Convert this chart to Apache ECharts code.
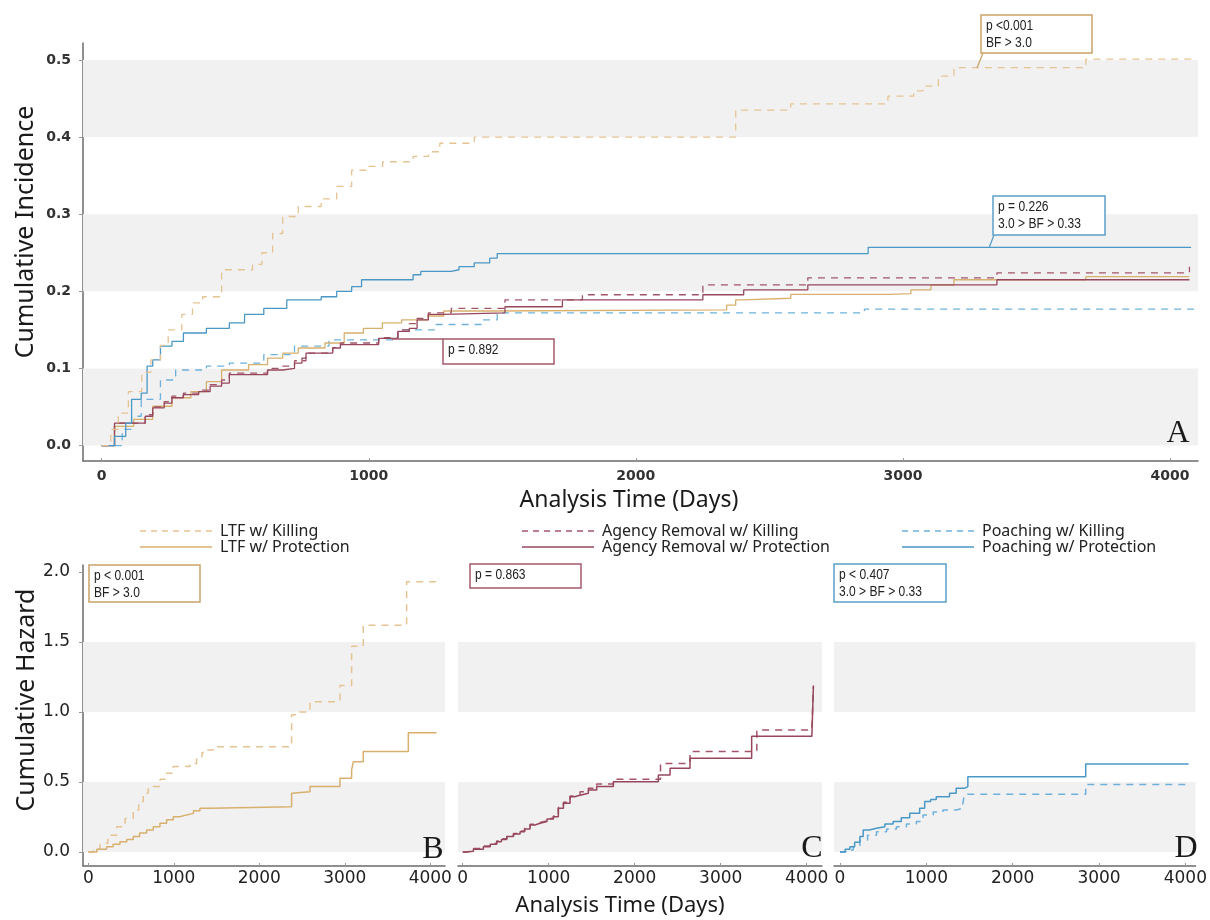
<!DOCTYPE html>
<html>
<head>
<meta charset="utf-8" />
<title>Cumulative incidence and hazard</title>
<script src="https://cdn.jsdelivr.net/npm/echarts@6/dist/echarts.min.js"></script>
<style>
  html, body { margin: 0; padding: 0; background: #fff; }
  #main { width: 1210px; height: 920px; }
</style>
</head>
<body>
<div id="main"></div>
<script type="text/javascript">
// ---- data: [day, value] step points ----
var seriesNames = ['LTF w/ Killing', 'LTF w/ Protection',
                   'Agency Removal w/ Killing', 'Agency Removal w/ Protection',
                   'Poaching w/ Killing', 'Poaching w/ Protection'];

// panel A : cumulative incidence
var ltfKillA = [[0,0],[34,0.021],[62,0.042],[100,0.07],[150,0.095],[184,0.111],[220,0.13],[249,0.15],[300,0.17],[340,0.185],
  [378,0.193],[449,0.228],[565,0.235],[600,0.25],[640,0.275],[678,0.297],[736,0.31],[822,0.32],[880,0.336],[936,0.357],
  [994,0.362],[1052,0.368],[1166,0.375],[1224,0.381],[1266,0.392],[1395,0.40],[2374,0.435],[2580,0.443],[2944,0.453],
  [3040,0.46],[3075,0.466],[3133,0.479],[3191,0.49],[3685,0.501],[4094,0.501]];
var ltfProtA = [[0,0],[48,0.025],[120,0.034],[191,0.051],[263,0.062],[334,0.07],[392,0.083],[449,0.098],[550,0.105],
  [621,0.1135],[678,0.12],[736,0.1265],[836,0.133],[908,0.146],[980,0.152],[1051,0.159],[1123,0.163],[1223,0.168],
  [1281,0.1745],[1453,0.176],[2340,0.182],[2374,0.189],[2404,0.191],[2580,0.196],[2944,0.197],[3030,0.202],[3105,0.208],
  [3191,0.215],[3685,0.219],[4073,0.219]];
var agencyKillA = [[0,0],[48,0.029],[163,0.04],[191,0.05],[234,0.057],[263,0.064],[306,0.068],[363,0.072],[406,0.079],
  [449,0.085],[478,0.094],[621,0.1],[678,0.103],[722,0.11],[765,0.12],[865,0.127],[894,0.133],[1037,0.14],[1109,0.15],
  [1152,0.158],[1181,0.165],[1223,0.172],[1309,0.178],[1510,0.189],[1800,0.1956],[2251,0.2085],[2644,0.2175],
  [3352,0.224],[4060,0.224],[4073,0.232]];
var agencyProtA = [[0,0],[48,0.029],[163,0.038],[191,0.049],[234,0.055],[263,0.062],[306,0.066],[363,0.07],[406,0.077],
  [449,0.081],[478,0.092],[621,0.098],[678,0.1],[722,0.107],[750,0.1135],[765,0.12],[865,0.1265],[894,0.131],
  [1037,0.139],[1109,0.148],[1152,0.152],[1181,0.163],[1223,0.17],[1281,0.172],[1510,0.18],[1725,0.189],
  [2251,0.1956],[2404,0.202],[2644,0.2085],[3352,0.215],[4073,0.215]];
var poachKillA = [[0,0],[77,0.021],[112,0.038],[148,0.06],[220,0.085],[277,0.098],[392,0.103],[478,0.107],[607,0.118],
  [722,0.129],[851,0.137],[1109,0.15],[1252,0.157],[1424,0.163],[1481,0.172],[2856,0.177],[4090,0.177]];
var poachProtA = [[0,0],[48,0.012],[90,0.029],[112,0.06],[148,0.068],[170,0.103],[191,0.111],[220,0.129],[263,0.135],
  [306,0.146],[392,0.152],[478,0.159],[535,0.17],[607,0.178],[693,0.189],[822,0.193],[880,0.2],[936,0.206],[973,0.215],
  [1166,0.2215],[1195,0.226],[1309,0.228],[1338,0.232],[1395,0.237],[1453,0.243],[1481,0.249],[2870,0.257],[4079,0.257]];

// panel B : LTF cumulative hazard
var ltfKillB = [[0,0],[60,0.02],[136,0.062],[230,0.12],[331,0.18],[430,0.24],[526,0.30],[590,0.36],[643,0.42],[700,0.45],
  [760,0.467],[840,0.52],[916,0.562],[994,0.61],[1189,0.633],[1267,0.68],[1330,0.71],[1384,0.729],[1462,0.752],
  [2378,0.98],[2450,1.0],[2593,1.074],[2943,1.19],[3080,1.47],[3216,1.62],[3723,1.93],[4074,1.93]];
var ltfProtB = [[0,0],[100,0.02],[214,0.038],[290,0.055],[370,0.074],[450,0.09],[526,0.11],[600,0.135],[682,0.157],
  [760,0.18],[838,0.205],[916,0.23],[994,0.252],[1070,0.265],[1150,0.276],[1230,0.295],[1306,0.312],[1423,0.324],
  [2378,0.419],[2398,0.431],[2593,0.467],[2943,0.526],[3080,0.586],[3100,0.645],[3216,0.717],[3743,0.852],[4074,0.852]];

// panel C : agency removal cumulative hazard
var agencyKillC = [[0,0],[40,0.008],[124,0.025],[240,0.042],[320,0.06],[395,0.078],[450,0.095],[512,0.115],[590,0.132],
  [667,0.15],[720,0.17],[783,0.198],[840,0.21],[899,0.222],[980,0.24],[1054,0.258],[1112,0.32],[1171,0.355],[1248,0.4],
  [1300,0.412],[1364,0.43],[1461,0.455],[1558,0.486],[1752,0.519],[2300,0.633],[2643,0.717],[3420,0.871],[4060,0.871],
  [4078,1.19]];
var agencyProtC = [[0,0],[40,0.005],[124,0.02],[240,0.038],[320,0.055],[395,0.074],[450,0.09],[512,0.11],[590,0.128],
  [667,0.145],[720,0.165],[783,0.193],[840,0.205],[899,0.217],[980,0.235],[1054,0.252],[1112,0.312],[1171,0.348],
  [1248,0.395],[1300,0.405],[1364,0.419],[1461,0.443],[1558,0.467],[1752,0.502],[2275,0.55],[2411,0.598],[2643,0.669],
  [3360,0.826],[4060,0.826],[4078,1.18]];

// panel D : poaching cumulative hazard
var poachKillD = [[0,0],[70,0.015],[154,0.038],[231,0.086],[320,0.12],[423,0.145],[540,0.165],[654,0.181],[770,0.2],
  [885,0.217],[962,0.264],[1080,0.285],[1192,0.3],[1346,0.312],[1423,0.348],[1442,0.412],[2846,0.483],[4038,0.483]];
var poachProtD = [[0,0],[60,0.02],[115,0.038],[170,0.07],[231,0.11],[269,0.157],[340,0.17],[423,0.181],[520,0.2],
  [615,0.217],[710,0.245],[808,0.276],[923,0.312],[981,0.36],[1050,0.375],[1115,0.395],[1269,0.419],[1346,0.455],
  [1442,0.467],[1481,0.538],[2846,0.629],[4038,0.629]];

// tick labels and shaded bands
var dayTicks = [0, 1000, 2000, 3000, 4000];
var incidenceTicks = [0, 0.1, 0.2, 0.3, 0.4, 0.5];
var hazardTicks = [0, 0.5, 1, 1.5, 2];
var incidenceBands = [[0, 0.1], [0.2, 0.3], [0.4, 0.5]];
var hazardBands = [[0, 0.5], [1, 1.5]];

var colors = {
    ltfKill: '#e6c393', ltfProt: '#d8b06e',
    agencyKill: '#a25569', agencyProt: '#97475c',
    poachKill: '#6fb1dc', poachProt: '#4a98c6'
};
var seriesColors = [colors.ltfKill, colors.ltfProt, colors.agencyKill, colors.agencyProt, colors.poachKill, colors.poachProt];

var myChart = echarts.init(document.getElementById('main'));

function bands(list) {
    return {
        silent: true,
        itemStyle: { color: '#f1f1f1' },
        data: list.map(function (b) { return [{ yAxis: b[0] }, { yAxis: b[1] }]; })
    };
}

function mkLine(name, data, color, dashed, idx, width, area) {
    var s = {
        name: name,
        type: 'line',
        step: 'end',
        xAxisIndex: idx,
        yAxisIndex: idx,
        data: data,
        showSymbol: false,
        symbol: 'none',
        lineStyle: { color: color, width: width, type: dashed ? [7, 6] : 'solid' },
        itemStyle: { color: color },
        z: 3
    };
    if (area) s.markArea = area;
    return s;
}

var sans = "'Noto Sans', 'Open Sans', sans-serif";
var narrow = "'Liberation Sans', sans-serif";
var axisFont = "'DejaVu Sans', sans-serif";

function xAxisFor(idx, min, max, big) {
    return {
        type: 'value', gridIndex: idx, min: min, max: max,
        splitLine: { show: false },
        axisLine: { show: true, onZero: false, lineStyle: { color: '#6b6b6b', width: 1.5 } },
        axisTick: { show: true, inside: true, length: 3, customValues: dayTicks, lineStyle: { color: '#999' } },
        axisLabel: {
            customValues: dayTicks,
            margin: big ? 4 : 8,
            color: big ? '#222' : '#333',
            fontFamily: axisFont,
            fontSize: big ? 17 : 14,
            fontWeight: big ? 'normal' : 'bold',
            formatter: function (v) { return String(v); }
        }
    };
}

function yAxisFor(idx, min, max, ticks, show, big) {
    return {
        type: 'value', gridIndex: idx, min: min, max: max,
        splitLine: { show: false },
        axisLine: { show: show, onZero: false, lineStyle: { color: '#6b6b6b', width: 1.5 } },
        axisTick: { show: show, length: 4, customValues: ticks, lineStyle: { color: '#999' } },
        axisLabel: {
            show: show,
            customValues: ticks,
            margin: big ? 13 : 12,
            color: big ? '#222' : '#333',
            fontFamily: axisFont,
            fontSize: big ? 17 : 14,
            fontWeight: big ? 'normal' : 'bold',
            formatter: function (v) { return v.toFixed(1); }
        }
    };
}

function box(x, y, w, h, color, text) {
    return {
        type: 'group', x: x, y: y, silent: true,
        children: [
            { type: 'rect', z: 100, shape: { x: 0, y: 0, width: w, height: h },
              style: { fill: '#fff', stroke: color, lineWidth: 1.5 } },
            { type: 'text', z: 101, x: 5, y: 3, scaleX: 0.86,
              style: { text: text, fill: '#222', font: '14px ' + narrow, lineHeight: 17 } }
        ]
    };
}

function leader(x1, y1, x2, y2, color) {
    return { type: 'line', silent: true, z: 99,
        shape: { x1: x1, y1: y1, x2: x2, y2: y2 },
        style: { stroke: color, lineWidth: 1.3 } };
}

function label(text, x, y, size, rot, font) {
    return { type: 'text', x: x, y: y, rotation: rot || 0, silent: true, z: 100,
        style: { text: text, fill: '#1a1a1a', font: size + 'px ' + (font || sans),
                 textAlign: 'center', textVerticalAlign: 'middle' } };
}

// legend drawn as line samples + text, two rows per group
function legendGroup(left, i0) {
    var items = [];
    [0, 1].forEach(function (r) {
        var i = i0 + r, y = 531 + r * 16;
        items.push({ type: 'line', silent: true, z: 100,
            shape: { x1: left, y1: y, x2: left + 72, y2: y },
            style: { stroke: seriesColors[i], lineWidth: 1.5, lineDash: r === 0 ? [6, 5] : null } });
        items.push({ type: 'text', silent: true, z: 100, x: left + 80, y: y,
            style: { text: seriesNames[i], fill: '#222', font: '16px ' + sans, textVerticalAlign: 'middle' } });
    });
    return items;
}

option = {
    backgroundColor: '#fff',
    animation: false,
    grid: [
        { left: 83, top: 43, width: 1115, height: 418 },
        { left: 83, top: 565, width: 362, height: 301 },
        { left: 458, top: 565, width: 364, height: 301 },
        { left: 834, top: 565, width: 363, height: 301 }
    ],
    xAxis: [
        xAxisFor(0, -70, 4105, false),
        xAxisFor(1, -62, 4172, true),
        xAxisFor(2, -55, 4178, true),
        xAxisFor(3, -69, 4118, true)
    ],
    yAxis: [
        yAxisFor(0, -0.02, 0.522, incidenceTicks, true, false),
        yAxisFor(1, -0.1, 2.05, hazardTicks, true, true),
        yAxisFor(2, -0.1, 2.05, hazardTicks, false, true),
        yAxisFor(3, -0.1, 2.05, hazardTicks, false, true)
    ],
    series: [
        mkLine(seriesNames[4], poachKillA, colors.poachKill, true, 0, 1.3, bands(incidenceBands)),
        mkLine(seriesNames[1], ltfProtA, colors.ltfProt, false, 0, 1.3),
        mkLine(seriesNames[2], agencyKillA, colors.agencyKill, true, 0, 1.3),
        mkLine(seriesNames[3], agencyProtA, colors.agencyProt, false, 0, 1.3),
        mkLine(seriesNames[5], poachProtA, colors.poachProt, false, 0, 1.3),
        mkLine(seriesNames[0], ltfKillA, colors.ltfKill, true, 0, 1.3),

        mkLine(seriesNames[0], ltfKillB, colors.ltfKill, true, 1, 1.5, bands(hazardBands)),
        mkLine(seriesNames[1], ltfProtB, colors.ltfProt, false, 1, 1.5),
        mkLine(seriesNames[2], agencyKillC, colors.agencyKill, true, 2, 1.5, bands(hazardBands)),
        mkLine(seriesNames[3], agencyProtC, colors.agencyProt, false, 2, 1.5),
        mkLine(seriesNames[4], poachKillD, colors.poachKill, true, 3, 1.5, bands(hazardBands)),
        mkLine(seriesNames[5], poachProtD, colors.poachProt, false, 3, 1.5)
    ],
    graphic: [
        label('Cumulative Incidence', 26, 232, 25, Math.PI / 2),
        label('Analysis Time (Days)', 629, 500, 23),
        label('Cumulative Hazard', 27, 700, 25, Math.PI / 2),
        label('Analysis Time (Days)', 620, 906, 22),
        label('A', 1178, 434, 32, 0, "'Liberation Serif', serif"),
        label('B', 433, 850, 32, 0, "'Liberation Serif', serif"),
        label('C', 812, 849, 32, 0, "'Liberation Serif', serif"),
        label('D', 1186, 849, 32, 0, "'Liberation Serif', serif"),

        leader(983, 53, 977, 68, '#c9a468'),
        box(981, 15, 111, 38, '#c9a468', 'p <0.001\nBF > 3.0'),
        leader(994, 235, 989, 248, '#5aa0c8'),
        box(993, 196, 112, 39, '#5aa0c8', 'p = 0.226\n3.0 > BF > 0.33'),
        leader(392, 339, 443, 339, '#a35a6a'),
        box(443, 339, 111, 25, '#a35a6a', 'p = 0.892'),

        box(89, 565, 111, 37, '#c9a468', 'p < 0.001\nBF > 3.0'),
        box(470, 564, 111, 24, '#a35a6a', 'p = 0.863'),
        box(834, 564, 112, 38, '#5aa0c8', 'p < 0.407\n3.0 > BF > 0.33')
    ].concat(legendGroup(140, 0), legendGroup(522, 2), legendGroup(902, 4))
};
myChart.setOption(option);
</script>
</body>
</html>
